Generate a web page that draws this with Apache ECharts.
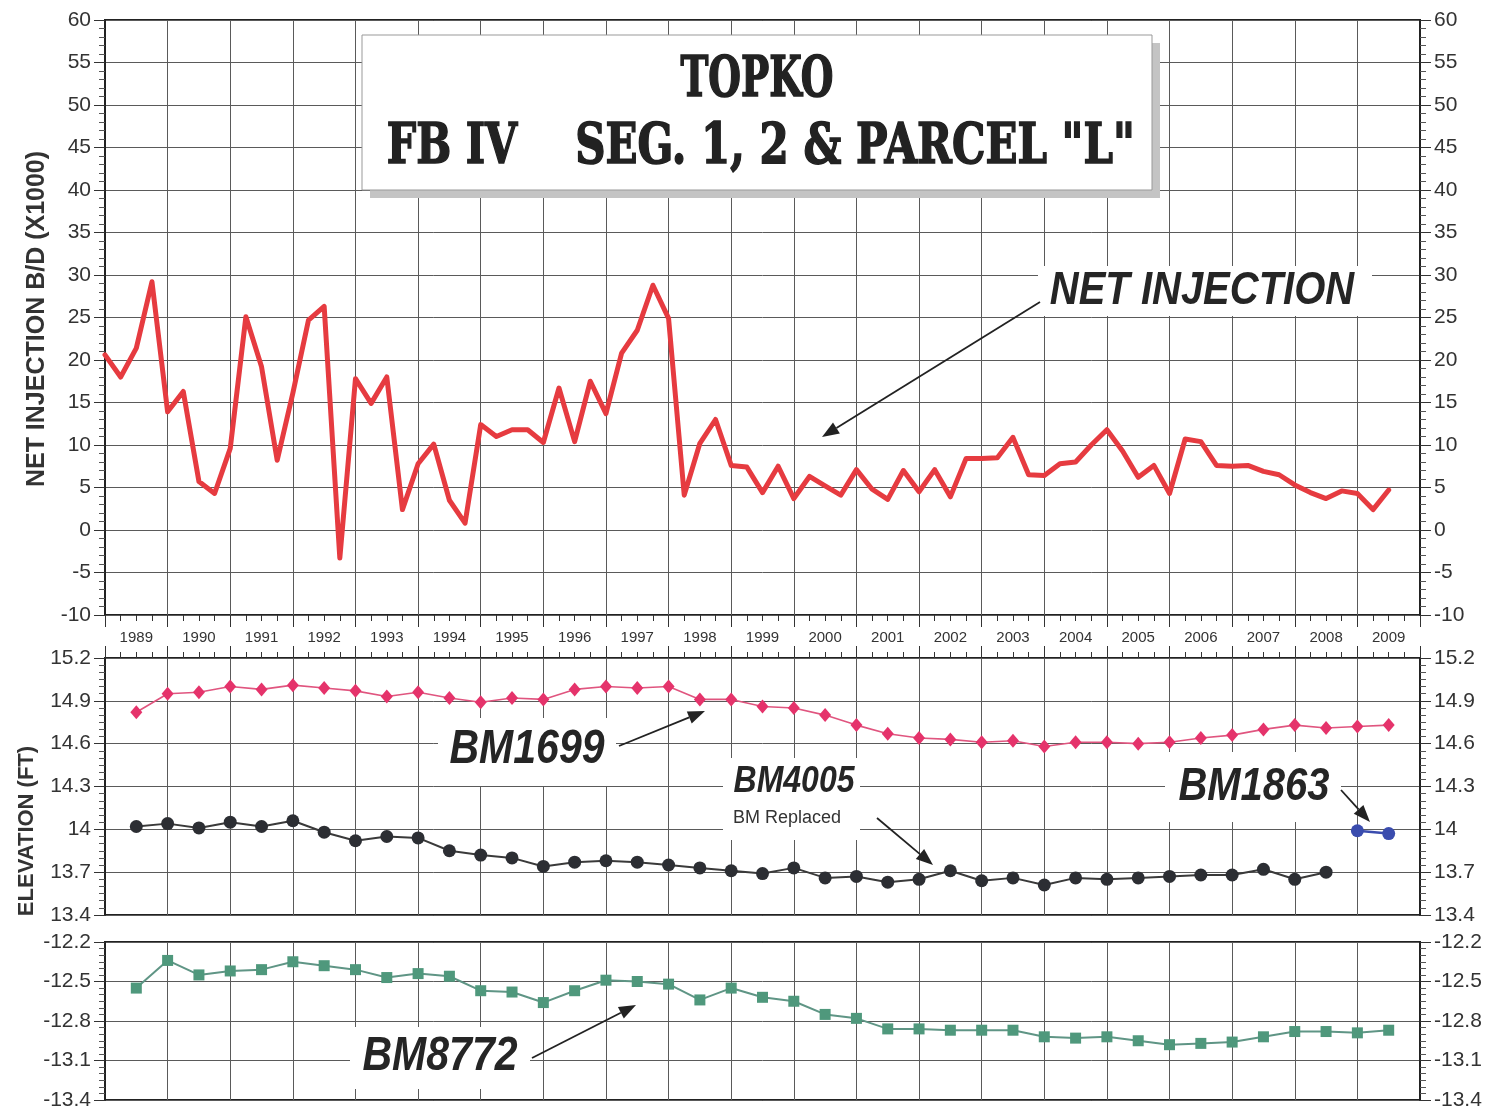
<!DOCTYPE html>
<html><head><meta charset="utf-8">
<script src="https://cdn.jsdelivr.net/npm/echarts@6/dist/echarts.min.js"></script>
<style>html,body{margin:0;padding:0;background:#fff}#c{width:1501px;height:1111px}</style>
</head><body><div id="c"></div>
<script>
// ---- data ----
const yearLabels = ['1989','1990','1991','1992','1993','1994','1995','1996','1997','1998','1999','2000','2001','2002','2003','2004','2005','2006','2007','2008','2009'];
const injStart = 1989.0;   // first quarterly reading
const injStep = 0.25;      // quarterly
const netInjection = [20.6,18.0,21.4,29.2,13.9,16.3,5.7,4.3,9.6,25.1,19.2,8.2,16.1,24.7,26.3,-3.3,17.8,14.9,18.0,2.4,7.8,10.1,3.5,0.8,12.4,11.0,11.8,11.8,10.3,16.7,10.4,17.5,13.7,20.8,23.5,28.8,24.9,4.1,10.2,13.0,7.6,7.4,4.4,7.5,3.7,6.3,5.2,4.1,7.1,4.8,3.6,7.0,4.5,7.1,3.9,8.4,8.4,8.5,10.9,6.5,6.4,7.8,8.0,10.0,11.8,9.3,6.2,7.6,4.3,10.7,10.4,7.6,7.5,7.6,6.9,6.5,5.3,4.4,3.7,4.6,4.3,2.4,4.7];
const elevStart = 1989.5;  // first semi-annual survey
const elevStep = 0.5;
const bm1699 = [14.82,14.95,14.96,15.00,14.98,15.01,14.99,14.97,14.93,14.96,14.92,14.89,14.92,14.91,14.98,15.00,14.99,15.00,14.91,14.91,14.86,14.85,14.80,14.73,14.67,14.64,14.63,14.61,14.62,14.58,14.61,14.61,14.60,14.61,14.64,14.66,14.70,14.73,14.71,14.72,14.73];
const bm4005 = [14.02,14.04,14.01,14.05,14.02,14.06,13.98,13.92,13.95,13.94,13.85,13.82,13.80,13.74,13.77,13.78,13.77,13.75,13.73,13.71,13.69,13.73,13.66,13.67,13.63,13.65,13.71,13.64,13.66,13.61,13.66,13.65,13.66,13.67,13.68,13.68,13.72,13.65,13.70];
const bm1863Start = 2009.0;
const bm1863 = [13.99,13.97];
const bm8772 = [-12.55,-12.34,-12.45,-12.42,-12.41,-12.35,-12.38,-12.41,-12.47,-12.44,-12.46,-12.57,-12.58,-12.66,-12.57,-12.49,-12.50,-12.52,-12.64,-12.55,-12.62,-12.65,-12.75,-12.78,-12.86,-12.86,-12.87,-12.87,-12.87,-12.92,-12.93,-12.92,-12.95,-12.98,-12.97,-12.96,-12.92,-12.88,-12.88,-12.89,-12.87];
const injAxis = {min:-10, max:60, interval:5};
const elevAxis = {min:13.4, max:15.2, interval:0.3};
const bm8772Axis = {min:-13.4, max:-12.2, interval:0.3};
const timeAxis = {min:1989, max:2010, interval:1};

// ---- build ----
const toPairs = (arr, start, step) => arr.map((v, i) => [start + i * step, v]);

const GRID_LINE = '#5a5a5a';
const INK = '#333';
const labelFont = 'Liberation Sans';

function xValueAxis(gridIndex, position, ticks) {
  return {
    type: 'value', gridIndex, position, min: timeAxis.min, max: timeAxis.max, interval: timeAxis.interval,
    axisLabel: {show: false},
    axisLine: {show: false, onZero: false},
    axisTick: {show: ticks, length: 12, lineStyle: {color: INK, width: 1}},
    minorTick: {show: ticks, splitNumber: 4, length: 6, lineStyle: {color: INK, width: 1}},
    splitLine: {show: true, lineStyle: {color: GRID_LINE, width: 1}}
  };
}
function yAxis(gridIndex, position, cfg, minorSplit) {
  return {
    type: 'value', gridIndex, position, min: cfg.min, max: cfg.max, interval: cfg.interval,
    axisLine: {show: true, onZero: false, lineStyle: {color: '#222', width: 2}},
    axisTick: {show: true, length: 11, lineStyle: {color: INK}},
    minorTick: {show: true, splitNumber: minorSplit, length: 6, lineStyle: {color: '#555'}},
    splitLine: {show: position === 'left', lineStyle: {color: GRID_LINE, width: 1}},
    axisLabel: {fontSize: 21, color: INK, margin: 14, fontFamily: labelFont}
  };
}

function arrow(x1, y1, x2, y2) {
  const a = Math.atan2(y2 - y1, x2 - x1), L = 17, W = 6.5;
  const bx = x2 - L * Math.cos(a), by = y2 - L * Math.sin(a);
  const px = -Math.sin(a) * W, py = Math.cos(a) * W;
  return [
    {type: 'line', z: 105, shape: {x1, y1, x2: bx, y2: by}, style: {stroke: '#222', lineWidth: 1.8}},
    {type: 'polygon', z: 105, shape: {points: [[x2, y2], [bx + px, by + py], [bx - px, by - py]]}, style: {fill: '#222'}}
  ];
}
function whiteBox(x, y, w, h) {
  return {type: 'rect', z: 100, shape: {x, y, width: w, height: h}, style: {fill: '#fff'}};
}
function label(text, cx, cy, size, extra) {
  return Object.assign({
    type: 'text', z: 106, x: cx, y: cy, scaleY: 1.15,
    style: {text, font: 'italic bold ' + size + 'px "Liberation Sans"', fill: '#252525',
      align: 'center', verticalAlign: 'middle', textAlign: 'center', textVerticalAlign: 'middle'}
  }, extra || {});
}
function titleText(text, cx, cy, sx) {
  return {type: 'text', z: 103, x: cx, y: cy, scaleX: sx,
    style: {text, font: 'bold 56px "DejaVu Serif"', fill: '#222', stroke: '#222', lineWidth: 1.6,
      align: 'center', verticalAlign: 'middle', textAlign: 'center', textVerticalAlign: 'middle'}};
}
function axisTitle(text, cx, cy, size) {
  return {type: 'text', z: 106, x: cx, y: cy, rotation: Math.PI / 2,
    style: {text, font: 'bold ' + size + 'px "Liberation Sans"', fill: '#333',
      align: 'center', verticalAlign: 'middle', textAlign: 'center', textVerticalAlign: 'middle'}};
}

const graphics = [
  // title box
  {type: 'rect', z: 100, shape: {x: 370, y: 43, width: 790, height: 155}, style: {fill: '#c4c4c4'}},
  {type: 'rect', z: 101, shape: {x: 362, y: 35, width: 790, height: 155}, style: {fill: '#fff', stroke: '#999', lineWidth: 1}},
  titleText('TOPKO', 757, 81, 0.67),
  titleText('FB IV', 452, 148, 0.74),
  titleText('SEG. 1, 2 & PARCEL "L"', 855, 148, 0.75),
  // annotations
  whiteBox(1038, 266, 334, 50),
  label('NET INJECTION', 1202, 291, 40),
  ...arrow(1040, 302, 822, 437),
  whiteBox(438, 718, 178, 68),
  label('BM1699', 527, 750, 41),
  ...arrow(619, 746, 705, 711),
  whiteBox(723, 758, 137, 82),
  label('BM4005', 794, 782, 32),
  {type: 'text', z: 106, x: 787, y: 818, style: {text: 'BM Replaced', font: '18px "Liberation Sans"', fill: '#333',
    align: 'center', verticalAlign: 'middle', textAlign: 'center', textVerticalAlign: 'middle'}},
  ...arrow(877, 818, 933, 865),
  whiteBox(1165, 752, 176, 70),
  label('BM1863', 1254, 787, 40),
  ...arrow(1341, 790, 1370, 822),
  whiteBox(350, 1027, 180, 62),
  label('BM8772', 440, 1057, 41),
  ...arrow(532, 1058, 636, 1005),
  // axis titles
  axisTitle('NET INJECTION B/D (X1000)', 37, 319, 25),
  axisTitle('ELEVATION (FT)', 27, 831, 22)
];

const option = {
  animation: false,
  backgroundColor: '#fff',
  grid: [
    {left: 105, right: 81, top: 20, height: 595, show: true, borderColor: '#222', borderWidth: 2, backgroundColor: 'transparent'},
    {left: 105, right: 81, top: 658, height: 257, show: true, borderColor: '#222', borderWidth: 2, backgroundColor: 'transparent'},
    {left: 105, right: 81, top: 942, height: 158, show: true, borderColor: '#222', borderWidth: 2, backgroundColor: 'transparent'}
  ],
  xAxis: [
    xValueAxis(0, 'bottom', true),
    {type: 'category', gridIndex: 0, position: 'bottom', data: yearLabels, boundaryGap: true,
      axisLine: {show: false, onZero: false}, axisTick: {show: false}, splitLine: {show: false},
      axisLabel: {fontSize: 15, color: INK, margin: 15, fontFamily: labelFont, interval: 0}},
    xValueAxis(1, 'top', true),
    xValueAxis(2, 'bottom', false)
  ],
  yAxis: [
    yAxis(0, 'left', injAxis, 5),
    yAxis(0, 'right', injAxis, 5),
    yAxis(1, 'left', elevAxis, 6),
    yAxis(1, 'right', elevAxis, 6),
    yAxis(2, 'left', bm8772Axis, 6),
    yAxis(2, 'right', bm8772Axis, 6)
  ],
  series: [
    {name: 'NET INJECTION', type: 'line', xAxisIndex: 0, yAxisIndex: 0, z: 3,
      data: toPairs(netInjection, injStart, injStep), symbol: 'none',
      lineStyle: {color: '#e63b40', width: 5, join: 'round', cap: 'round'}},
    {name: 'BM1699', type: 'line', xAxisIndex: 2, yAxisIndex: 2, z: 3,
      data: toPairs(bm1699, elevStart, elevStep), symbol: 'diamond', symbolSize: [12, 14],
      itemStyle: {color: '#e5336b'}, lineStyle: {color: '#e0557f', width: 1.6}},
    {name: 'BM4005', type: 'line', xAxisIndex: 2, yAxisIndex: 2, z: 3,
      data: toPairs(bm4005, elevStart, elevStep), symbol: 'circle', symbolSize: 13,
      itemStyle: {color: '#2c2e33'}, lineStyle: {color: '#3a3a3a', width: 2}},
    {name: 'BM1863', type: 'line', xAxisIndex: 2, yAxisIndex: 2, z: 3,
      data: toPairs(bm1863, bm1863Start, elevStep), symbol: 'circle', symbolSize: 13,
      itemStyle: {color: '#3a4cae'}, lineStyle: {color: '#3a4cae', width: 2.5}},
    {name: 'BM8772', type: 'line', xAxisIndex: 3, yAxisIndex: 4, z: 3,
      data: toPairs(bm8772, elevStart, elevStep), symbol: 'rect', symbolSize: 11,
      itemStyle: {color: '#4f987c'}, lineStyle: {color: '#5f9585', width: 2}}
  ],
  graphic: graphics
};

const chart = echarts.init(document.getElementById('c'));
chart.setOption(option);
</script>
</body></html>
